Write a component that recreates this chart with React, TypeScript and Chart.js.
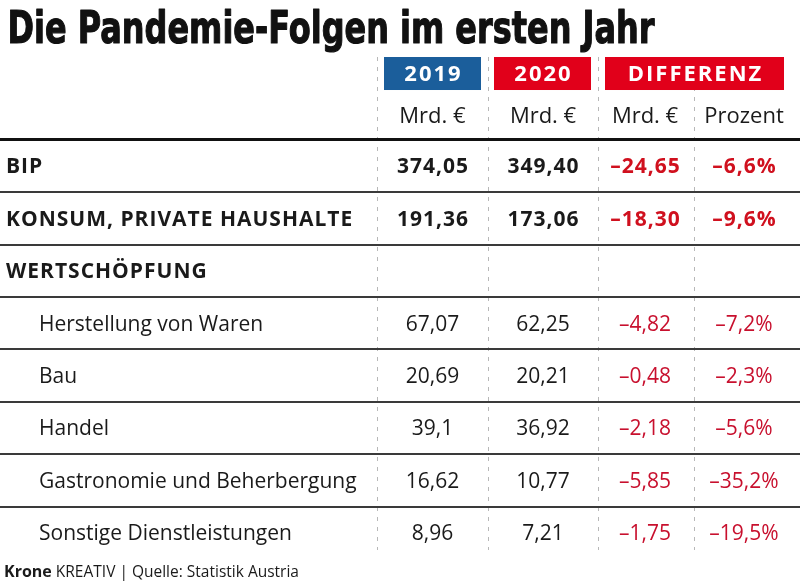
import React, { useEffect, useRef } from 'react';
import { Chart, registerables } from 'chart.js';

Chart.register(...registerables);

// ---------- data ----------
const TITLE = 'Die Pandemie-Folgen im ersten Jahr';
const FOOTER_BOLD = 'Krone';
const FOOTER_TEXT = ' KREATIV | Quelle: Statistik Austria';
const GROUP_HEADERS = ['2019', '2020', 'DIFFERENZ'];
const UNIT_HEADERS = ['Mrd. €', 'Mrd. €', 'Mrd. €', 'Prozent'];

const ROW_LABELS = [
  'BIP',
  'KONSUM, PRIVATE HAUSHALTE',
  'WERTSCHÖPFUNG',
  'Herstellung von Waren',
  'Bau',
  'Handel',
  'Gastronomie und Beherbergung',
  'Sonstige Dienstleistungen',
];
const ROW_BOLD = [true, true, true, false, false, false, false, false];
const ROW_INDENT = [false, false, false, true, true, true, true, true];

const VALUES_2019: (number | null)[] = [374.05, 191.36, null, 67.07, 20.69, 39.1, 16.62, 8.96];
const DECIMALS_2019 = [2, 2, 0, 2, 2, 1, 2, 2];
const VALUES_2020: (number | null)[] = [349.4, 173.06, null, 62.25, 20.21, 36.92, 10.77, 7.21];
const DIFF_MRD: (number | null)[] = [-24.65, -18.3, null, -4.82, -0.48, -2.18, -5.85, -1.75];
const DIFF_PCT: (number | null)[] = [-6.6, -9.6, null, -7.2, -2.3, -5.6, -35.2, -19.5];

// ---------- layout (x in 0..100 across the width, y in row units) ----------
const COL_EDGES = [47.125, 61, 74.75, 86.75];
const COL_CENTERS = [54.06, 67.88, 80.63, 93.0];
const LABEL_X = [0.75, 4.875];
const BADGE_SPANS = [
  [48, 60.125],
  [61.75, 73.875],
  [75.625, 98],
];
const BADGE_COLORS = ['#1b5e9b', '#e1001a', '#e1001a'];
const BADGE_ROW = -1.765;
const BADGE_HALF = 0.315;
const UNIT_ROW = -0.962;
const FOOTER_ROW = 7.73;
const Y_MIN = -2.08;
const Y_MAX = 7.33;
const ROW_LINES = [-0.5, 0.5, 1.5, 2.5, 3.5, 4.5, 5.5, 6.5];
const TITLE_WIDTH = 647;

const BLACK = '#1a1a1a';
const RED_BOLD = '#d0101e';
const RED = '#c8102e';
const FONT = '"Open Sans", "Noto Sans", sans-serif';

function fmt(v: number, dec: number, pct = false): string {
  const s = Math.abs(v).toLocaleString('de-DE', {
    minimumFractionDigits: dec,
    maximumFractionDigits: dec,
  });
  return (v < 0 ? '–' : '') + s + (pct ? '%' : '');
}

type Cell = { x: number; y: number; text: string; color: string; bold: boolean; align: CanvasTextAlign };

function buildDatasets() {
  const labelCells: Cell[] = ROW_LABELS.map((l, i) => ({
    x: ROW_INDENT[i] ? LABEL_X[1] : LABEL_X[0],
    y: i,
    text: l,
    color: BLACK,
    bold: ROW_BOLD[i],
    align: 'left',
  }));
  const cols = [
    { values: VALUES_2019, dec: DECIMALS_2019, pct: false, red: false },
    { values: VALUES_2020, dec: VALUES_2020.map(() => 2), pct: false, red: false },
    { values: DIFF_MRD, dec: DIFF_MRD.map(() => 2), pct: false, red: true },
    { values: DIFF_PCT, dec: DIFF_PCT.map(() => 1), pct: true, red: true },
  ];
  const valueSets = cols.map((c, k) => ({
    label: UNIT_HEADERS[k],
    data: c.values.map((v, i) => ({
      x: COL_CENTERS[k],
      y: i,
      text: v == null ? '' : fmt(v, c.dec[i], c.pct),
      color: c.red ? (ROW_BOLD[i] ? RED_BOLD : RED) : BLACK,
      bold: ROW_BOLD[i],
      align: 'center' as CanvasTextAlign,
    })),
  }));
  return [{ label: 'labels', data: labelCells }, ...valueSets].map((d) => ({
    ...d,
    pointRadius: 0,
    pointHoverRadius: 0,
  }));
}

const tablePlugin = {
  id: 'tableText',
  afterDatasetsDraw(chart: any) {
    const { ctx } = chart;
    const xs = chart.scales.x;
    const ys = chart.scales.y;
    ctx.save();
    ctx.textBaseline = 'alphabetic';

    // title (heavy, condensed to the reference width)
    ctx.save();
    ctx.fillStyle = '#111';
    ctx.strokeStyle = '#111';
    ctx.lineWidth = 1.2;
    ctx.lineJoin = 'round';
    ctx.font = 'bold 44px "DejaVu Sans", "Liberation Sans", sans-serif';
    ctx.textAlign = 'left';
    ctx.letterSpacing = '0px';
    const tw = ctx.measureText(TITLE).width;
    ctx.translate(7.5, 42.5);
    ctx.scale(TITLE_WIDTH / tw, 1);
    ctx.fillText(TITLE, 0, 0);
    ctx.strokeText(TITLE, 0, 0);
    ctx.restore();

    // group badges
    GROUP_HEADERS.forEach((h, i) => {
      const [a, b] = BADGE_SPANS[i];
      const x0 = xs.getPixelForValue(a);
      const x1 = xs.getPixelForValue(b);
      const y0 = ys.getPixelForValue(BADGE_ROW - BADGE_HALF);
      const y1 = ys.getPixelForValue(BADGE_ROW + BADGE_HALF);
      ctx.fillStyle = BADGE_COLORS[i];
      ctx.fillRect(x0, y0, x1 - x0, y1 - y0);
      ctx.fillStyle = '#ffffff';
      ctx.font = `bold 22px ${FONT}`;
      ctx.letterSpacing = '2px';
      ctx.textAlign = 'center';
      ctx.fillText(h, (x0 + x1) / 2 + 1, (y0 + y1) / 2 + 0.357 * 22);
    });

    // unit headers
    ctx.letterSpacing = '0px';
    ctx.font = `22px ${FONT}`;
    ctx.fillStyle = BLACK;
    ctx.textAlign = 'center';
    UNIT_HEADERS.forEach((u, k) => {
      ctx.fillText(u, xs.getPixelForValue(COL_CENTERS[k]), ys.getPixelForValue(UNIT_ROW) + 0.357 * 22);
    });

    // cells
    chart.data.datasets.forEach((ds: any, d: number) => {
      const meta = chart.getDatasetMeta(d);
      meta.data.forEach((el: any, j: number) => {
        const cell = ds.data[j] as Cell;
        if (!cell || !cell.text) return;
        ctx.font = `${cell.bold ? 'bold ' : ''}21px ${FONT}`;
        ctx.letterSpacing = cell.bold ? '1px' : '0px';
        ctx.fillStyle = cell.color;
        ctx.textAlign = cell.align;
        const dx = cell.bold && cell.align === 'center' ? 0.5 : 0;
        ctx.fillText(cell.text, el.x + dx, el.y + 0.357 * 21);
      });
    });

    // footer
    const fy = ys.getPixelForValue(FOOTER_ROW) + 0.357 * 16;
    const fx = xs.getPixelForValue(0.5);
    ctx.letterSpacing = '0px';
    ctx.textAlign = 'left';
    ctx.fillStyle = BLACK;
    ctx.font = `bold 16px ${FONT}`;
    ctx.fillText(FOOTER_BOLD, fx, fy);
    const w = ctx.measureText(FOOTER_BOLD).width;
    ctx.font = `15.5px ${FONT}`;
    ctx.fillText(FOOTER_TEXT, fx + w, fy);

    ctx.restore();
  },
};

export default function App() {
  const canvasRef = useRef<HTMLCanvasElement | null>(null);

  useEffect(() => {
    document.body.style.margin = '0';
    const canvas = canvasRef.current;
    if (!canvas) return;
    const chart = new Chart(canvas, {
      type: 'scatter',
      data: { datasets: buildDatasets() as any },
      options: {
        animation: false,
        responsive: false,
        devicePixelRatio: 1,
        events: [],
        layout: { padding: { top: 57, bottom: 33, left: 0, right: 0 } },
        plugins: {
          legend: { display: false },
          tooltip: { enabled: false },
          title: { display: false },
        },
        scales: {
          x: {
            type: 'linear',
            min: 0,
            max: 100,
            afterBuildTicks: (s: any) => {
              s.ticks = COL_EDGES.map((v) => ({ value: v }));
            },
            afterFit: (s: any) => {
              s.height = 0;
            },
            ticks: { display: false },
            grid: { color: '#b8b8b8', lineWidth: 1, drawTicks: false },
            border: { display: false, dash: [4, 6] },
          },
          y: {
            type: 'linear',
            reverse: true,
            min: Y_MIN,
            max: Y_MAX,
            afterBuildTicks: (s: any) => {
              s.ticks = ROW_LINES.map((v) => ({ value: v }));
            },
            afterFit: (s: any) => {
              s.width = 0;
            },
            ticks: { display: false },
            grid: {
              drawTicks: false,
              color: (c: any) => (c.tick && c.tick.value === -0.5 ? '#111111' : '#3a3a3a'),
              lineWidth: (c: any) => (c.tick && c.tick.value === -0.5 ? 3 : 2),
            },
            border: { display: false },
          },
        },
      },
      plugins: [tablePlugin],
    });
    return () => chart.destroy();
  }, []);

  return (
    <div style={{ width: 800, height: 583 }}>
      <canvas ref={canvasRef} width={800} height={583} />
    </div>
  );
}
